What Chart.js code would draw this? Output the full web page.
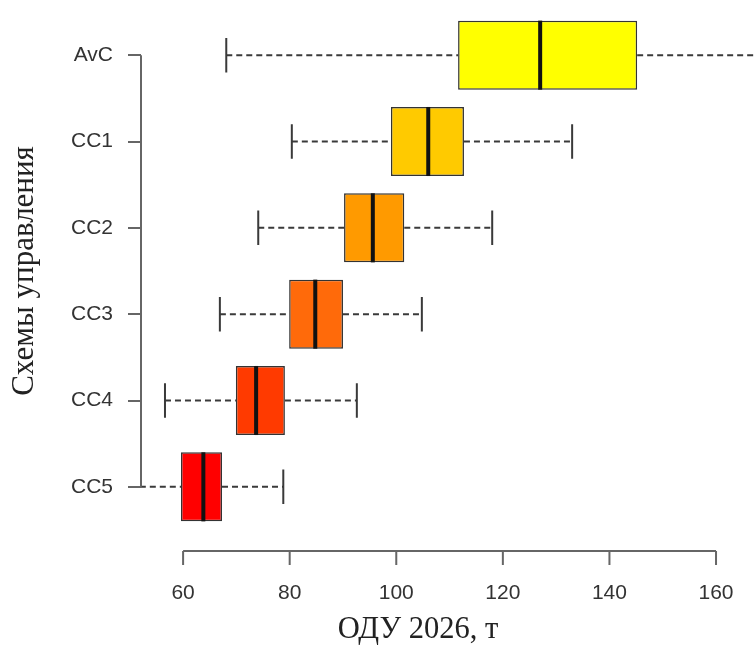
<!DOCTYPE html>
<html>
<head>
<meta charset="utf-8">
<script src="https://cdn.jsdelivr.net/npm/chart.js@4"></script>
<style>
  html, body { margin: 0; padding: 0; background: #fff; }
  #wrap { width: 756px; height: 648px; position: relative; }
</style>
</head>
<body>
<div id="wrap"><canvas id="box-chart"></canvas></div>
<script>
const schemes = ['AvC', 'CC1', 'CC2', 'CC3', 'CC4', 'CC5'];

const whiskerLow = [68.1, 80.4, 74.1, 66.9, 56.6, 50.0];
const q1 = [111.6, 99.0, 90.2, 79.9, 69.9, 59.6];
const median = [127.0, 106.0, 95.6, 84.8, 73.7, 63.8];
const q3 = [145.2, 112.7, 101.5, 90.0, 79.1, 67.3];
const whiskerHigh = [172.0, 133.0, 118.0, 104.8, 92.6, 78.8];

const xTicks = [60, 80, 100, 120, 140, 160];

const boxColors = ['#FFFF00', '#FFCA00', '#FF9A00', '#FF6A0A', '#FF3A00', '#FF0000'];

const sansFont = "'Liberation Sans', Arial, sans-serif";
const serifFont = "'Liberation Serif', 'Times New Roman', serif";

// whiskers, medians and the R-style detached axes
const boxExtras = {
  id: 'boxExtras',
  beforeDatasetsDraw(chart) {
    const ctx = chart.ctx;
    const x = chart.scales.x;
    const y = chart.scales.y;
    const area = chart.chartArea;
    const bars = chart.getDatasetMeta(0).data;
    ctx.save();
    // whiskers are clipped to the plot region, like in R
    ctx.beginPath();
    ctx.rect(area.left, area.top, area.right - area.left, area.bottom - area.top);
    ctx.clip();
    ctx.strokeStyle = '#3a3a3a';
    ctx.lineWidth = 2;
    schemes.forEach((s, i) => {
      const yc = y.getPixelForValue(i);
      const cap = bars[i].height / 4;
      ctx.setLineDash([6, 4]);
      ctx.beginPath();
      ctx.moveTo(x.getPixelForValue(whiskerLow[i]), yc);
      ctx.lineTo(x.getPixelForValue(q1[i]), yc);
      ctx.moveTo(x.getPixelForValue(q3[i]), yc);
      ctx.lineTo(x.getPixelForValue(whiskerHigh[i]), yc);
      ctx.stroke();
      ctx.setLineDash([]);
      ctx.beginPath();
      [whiskerLow[i], whiskerHigh[i]].forEach(v => {
        const px = x.getPixelForValue(v);
        ctx.moveTo(px, yc - cap);
        ctx.lineTo(px, yc + cap);
      });
      ctx.stroke();
    });
    ctx.restore();
  },
  afterDatasetsDraw(chart) {
    const ctx = chart.ctx;
    const x = chart.scales.x;
    const bars = chart.getDatasetMeta(0).data;
    ctx.save();
    ctx.strokeStyle = '#111';
    ctx.lineWidth = 4;
    schemes.forEach((s, i) => {
      const px = x.getPixelForValue(median[i]);
      const half = bars[i].height / 2;
      ctx.beginPath();
      ctx.moveTo(px, bars[i].y - half);
      ctx.lineTo(px, bars[i].y + half);
      ctx.stroke();
    });
    ctx.restore();
  },
  afterDraw(chart) {
    const ctx = chart.ctx;
    const x = chart.scales.x;
    const y = chart.scales.y;
    const area = chart.chartArea;
    ctx.save();
    ctx.strokeStyle = '#666';
    ctx.lineWidth = 2;
    // y axis line
    ctx.beginPath();
    ctx.moveTo(area.left, y.getPixelForValue(0));
    ctx.lineTo(area.left, y.getPixelForValue(schemes.length - 1));
    ctx.stroke();
    // x axis line and ticks
    const ay = area.bottom + 21;
    ctx.beginPath();
    ctx.moveTo(x.getPixelForValue(xTicks[0]), ay);
    ctx.lineTo(x.getPixelForValue(xTicks[xTicks.length - 1]), ay);
    xTicks.forEach(v => {
      const px = x.getPixelForValue(v);
      ctx.moveTo(px, ay);
      ctx.lineTo(px, ay + 14);
    });
    ctx.stroke();
    // x title
    ctx.fillStyle = '#222';
    ctx.font = '30.5px ' + serifFont;
    ctx.textAlign = 'center';
    ctx.textBaseline = 'middle';
    ctx.fillText('ОДУ 2026, т', 418, 630);
    ctx.restore();
  }
};

const data = {
  labels: schemes,
  datasets: [
    {
      data: schemes.map((s, i) => [q1[i], q3[i]]),
      backgroundColor: boxColors,
      borderColor: '#333',
      borderWidth: 1.5,
      borderSkipped: false,
      categoryPercentage: 1,
      barPercentage: 0.8,
    },
  ]
};

const config = {
  type: 'bar',
  data: data,
  plugins: [boxExtras],
  options: {
    indexAxis: 'y',
    responsive: true,
    maintainAspectRatio: false,
    animation: false,
    layout: { padding: { top: 12, left: 0, right: 0, bottom: 0 } },
    plugins: {
      legend: { display: false },
      tooltip: { enabled: false },
    },
    scales: {
      x: {
        type: 'linear',
        min: 52.1,
        max: 167.5,
        afterBuildTicks: scale => { scale.ticks = xTicks.map(v => ({ value: v })); },
        afterFit: scale => {
          scale.height = 118;
          scale.paddingLeft = 0;
          scale.paddingRight = 0;
        },
        grid: { display: false, drawTicks: false },
        border: { display: false },
        ticks: {
          padding: 51,
          color: '#333',
          font: { family: sansFont, size: 21 },
        },
      },
      y: {
        type: 'category',
        afterFit: scale => {
          scale.width = 141;
          scale.paddingTop = 0;
          scale.paddingBottom = 0;
        },
        grid: {
          display: true,
          drawOnChartArea: false,
          offset: false,
          tickLength: 13,
          color: '#666',
          lineWidth: 2,
        },
        border: { display: false },
        ticks: {
          padding: 15,
          color: '#333',
          font: { family: sansFont, size: 21 },
        },
        title: {
          display: true,
          text: 'Схемы управления',
          color: '#222',
          font: { family: serifFont, size: 31 },
          padding: { top: 6, bottom: 0 },
        },
      },
    },
  }
};

const boxChart = new Chart(document.getElementById('box-chart'), config);
</script>
</body>
</html>
